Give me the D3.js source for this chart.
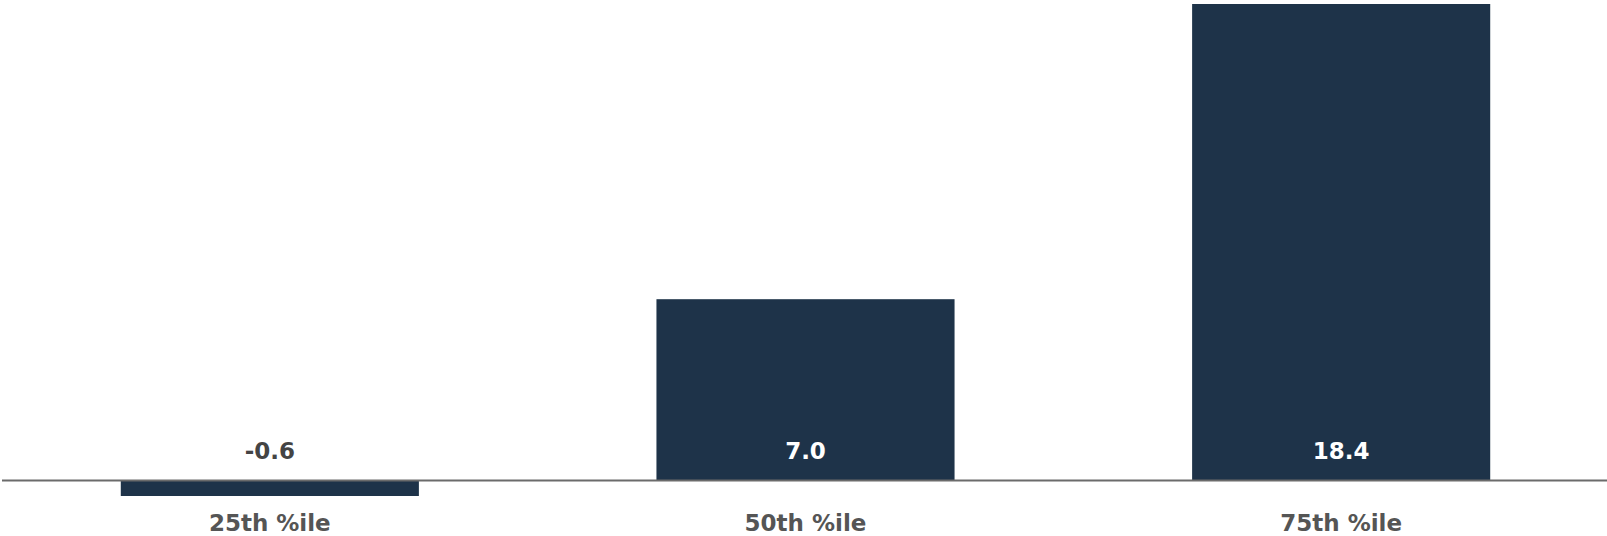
<!DOCTYPE html>
<html>
<head>
<meta charset="utf-8">
<script src="https://cdn.jsdelivr.net/npm/d3@7"></script>
<style>
  html, body { margin: 0; padding: 0; background: #ffffff; }
  svg { display: block; }
</style>
</head>
<body>
<svg id="chart" width="1607" height="536"></svg>
<script>
const categories = ["25th %ile", "50th %ile", "75th %ile"];
const values = [-0.6, 7.0, 18.4];
const valueLabels = ["-0.6", "7.0", "18.4"];

const W = 1607, H = 536;
const svg = d3.select("#chart");

const x = d3.scaleBand()
  .domain(categories)
  .range([2, 1609])
  .paddingInner(0.4435)
  .paddingOuter(0.22175);

const y = d3.scaleLinear()
  .domain([-0.6, 18.4])
  .range([496, 4]);

const barColor = "#1e3349";
const fontFam = "'DejaVu Sans', sans-serif";

svg.selectAll("rect.bar")
  .data(values)
  .join("rect")
  .attr("class", "bar")
  .attr("x", (d, i) => x(categories[i]))
  .attr("width", x.bandwidth())
  .attr("y", d => y(Math.max(0, d)))
  .attr("height", d => Math.abs(y(d) - y(0)))
  .attr("fill", barColor);

// baseline
svg.append("line")
  .attr("x1", 2).attr("x2", W)
  .attr("y1", y(0)).attr("y2", y(0))
  .attr("stroke", "#6b6b6b")
  .attr("stroke-width", 2);

// value labels
svg.selectAll("text.val")
  .data(values)
  .join("text")
  .attr("class", "val")
  .attr("x", (d, i) => x(categories[i]) + x.bandwidth() / 2)
  .attr("y", y(0) - 21)
  .attr("text-anchor", "middle")
  .attr("font-family", fontFam)
  .attr("font-weight", "bold")
  .attr("font-size", 23)
  .attr("fill", d => d < 0 ? "#444444" : "#ffffff")
  .text((d, i) => valueLabels[i]);

// category labels
svg.selectAll("text.cat")
  .data(categories)
  .join("text")
  .attr("class", "cat")
  .attr("x", d => x(d) + x.bandwidth() / 2)
  .attr("y", 531)
  .attr("text-anchor", "middle")
  .attr("font-family", fontFam)
  .attr("font-weight", "bold")
  .attr("font-size", 23)
  .attr("fill", "#555555")
  .text(d => d);
</script>
</body>
</html>
